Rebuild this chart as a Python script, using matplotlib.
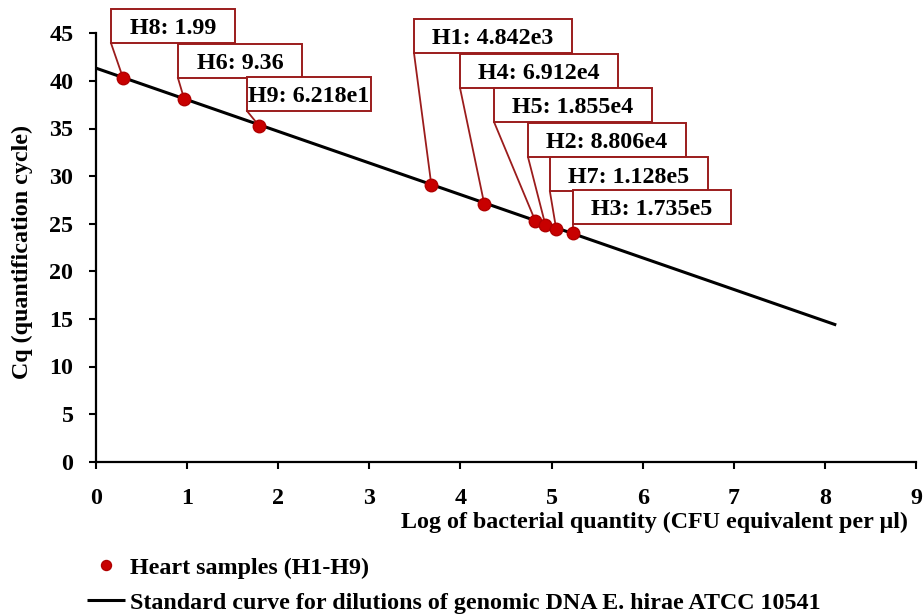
import matplotlib
matplotlib.use('Agg')
import matplotlib.pyplot as plt
from matplotlib.patches import Rectangle

# ---------------- data ----------------
# labels in display order (left group then the right stack)
label_names = ['H8', 'H6', 'H9', 'H1', 'H4', 'H5', 'H2', 'H7', 'H3']
label_values = ['1.99', '9.36', '6.218e1', '4.842e3', '6.912e4',
                '1.855e4', '8.806e4', '1.128e5', '1.735e5']
# sample points (log CFU, Cq), same order as leaders
point_log = [0.30, 0.97, 1.79, 3.68, 4.26, 4.82, 4.93, 5.05, 5.23]
point_cq = [40.3, 38.1, 35.3, 29.1, 27.1, 25.3, 24.9, 24.4, 24.0]
# standard curve end points
curve_log = [0.0, 8.12]
curve_cq = [41.35, 14.36]

x_ticks = [0, 1, 2, 3, 4, 5, 6, 7, 8, 9]
y_ticks = [0, 5, 10, 15, 20, 25, 30, 35, 40, 45]

# ---------------- layout ----------------
# bottom-left corners of label boxes (data coords) and box sizes
box_corner = [(0.168, 43.96), (0.902, 40.30), (1.659, 36.84),
              (3.49, 42.93), (3.995, 39.25), (4.368, 35.68),
              (4.74, 32.0), (4.98, 28.4), (5.23, 24.96)]
box_w = [1.36, 1.36, 1.36, 1.733, 1.733, 1.733, 1.733, 1.733, 1.733]
box_h = 3.57
FS = 17.3

FONT = 'Liberation Serif'
plt.rcParams['font.family'] = [FONT, 'DejaVu Serif']
plt.rcParams['font.weight'] = 'bold'

fig = plt.figure(figsize=(9.24, 6.14), dpi=100)
ax = fig.add_axes([95.7 / 924, 1 - 461.7 / 614, 820.8 / 924, 428.4 / 614])

red = '#C80000'
dark_red = '#9B1C1C'

line, = ax.plot(curve_log, curve_cq, color='black', lw=2.2, solid_capstyle='butt',
                label='Standard curve for dilutions of genomic DNA E. hirae ATCC 10541', zorder=3)
pts, = ax.plot(point_log, point_cq, 'o', color=red, markeredgecolor='#B00000',
               markersize=9, label='Heart samples (H1-H9)', zorder=4)

for name, val, (bx, by), w, px, py in zip(label_names, label_values, box_corner,
                                          box_w, point_log, point_cq):
    ax.plot([bx, px], [by, py], color=dark_red, lw=1.3, clip_on=False, zorder=2)
    rect = Rectangle((bx, by), w, box_h, facecolor='white', edgecolor=dark_red,
                     lw=1.4, clip_on=False, zorder=5)
    ax.add_patch(rect)
    ax.text(bx + w / 2, by + box_h * 0.42, f'{name}: {val}', ha='center', va='center',
            fontsize=FS, fontweight='bold', fontfamily=FONT, clip_on=False, zorder=6)

ax.set_xlim(0, 9)
ax.set_ylim(0, 45)
ax.set_xticks(x_ticks)
ax.set_yticks(y_ticks)
ax.spines['top'].set_visible(False)
ax.spines['right'].set_visible(False)
for s in ('left', 'bottom'):
    ax.spines[s].set_linewidth(1.6)
ax.tick_params(axis='both', direction='out', length=5, width=1.5, labelsize=FS)
ax.tick_params(axis='x', pad=14)
ax.tick_params(axis='y', pad=11)
for lab in ax.get_xticklabels() + ax.get_yticklabels():
    lab.set_fontweight('bold')

yl = ax.set_ylabel('Cq (quantification cycle)', fontsize=FS, fontweight='bold')
yl.set_va('center')
ax.yaxis.set_label_coords((22 - 95.7) / 820.8, (461.7 - 252) / 428.4)
xl = ax.set_xlabel('Log of bacterial quantity (CFU equivalent per µl)', fontsize=FS,
                   fontweight='bold')
xl.set_ha('right')
xl.set_va('center')
ax.xaxis.set_label_coords((908 - 95.7) / 820.8, (461.7 - 522) / 428.4)

leg = fig.legend(handles=[pts, line], loc='upper left',
                 bbox_to_anchor=(87 / 924, 1 - 557 / 614), frameon=False,
                 prop={'family': FONT, 'weight': 'bold', 'size': FS},
                 handlelength=1.6, handletextpad=0.2, labelspacing=0.55,
                 borderpad=0, borderaxespad=0, markerscale=0.8)

fig.savefig('out.png', dpi=100)
